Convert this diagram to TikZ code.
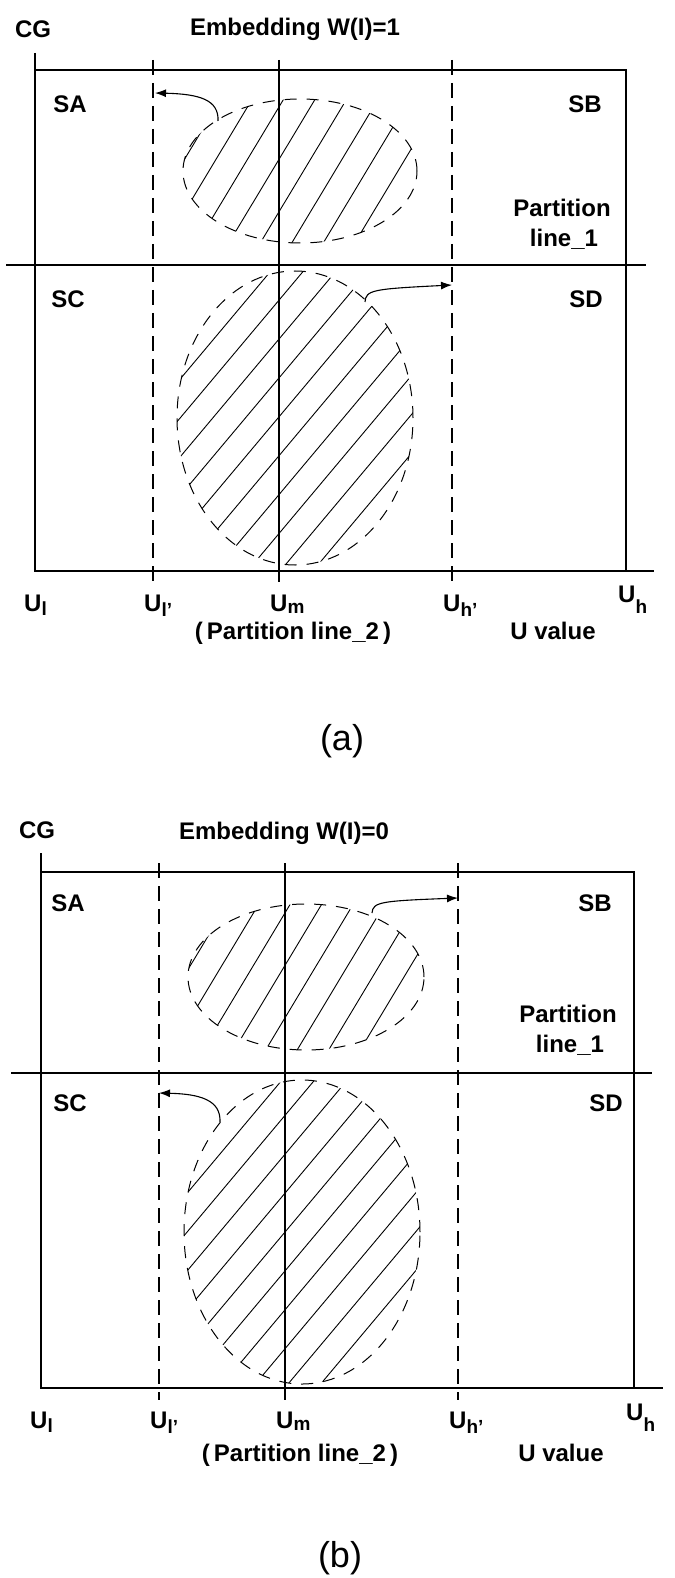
\documentclass[tikz,border=0pt]{standalone}
\usepackage{fontspec}
\setmainfont{Liberation Sans}
\usetikzlibrary{arrows.meta}
\newcommand{\lowsub}[2]{\raisebox{-#1pt}{\fontsize{19}{19}\selectfont #2}}
\begin{document}
\begin{tikzpicture}[x=1pt,y=-1pt,
  axis/.style={line width=1.3pt},
  guide/.style={line width=1.2pt, dash pattern=on 15pt off 8pt},
  region/.style={line width=1pt, dash pattern=on 12pt off 10pt},
  hatch/.style={line width=0.9pt},
  lbl/.style={font=\fontsize{24}{29}\selectfont\bfseries, inner sep=0pt, anchor=base},
  ulbl/.style={font=\fontsize{24}{29}\selectfont\bfseries, inner sep=0pt, anchor=base west},
  captxt/.style={font=\fontsize{36}{43}\selectfont, inner sep=0pt, anchor=base},
  mv/.style={line width=1.1pt, -{Latex[length=11pt,width=8pt]}},
]
\useasboundingbox (0,0) rectangle (674,1578);

%%%%%%%%%%%%%%%% Panel (a) %%%%%%%%%%%%%%%%
\begin{scope}
  \clip (300,171) ellipse [x radius=117pt, y radius=72pt];
  \begin{scope}[shift={(300,171)}, rotate=59]
    \foreach \k in {-6,...,6} \draw[hatch] (-200,\k*27+3) -- (200,\k*27+3);
  \end{scope}
\end{scope}
\begin{scope}
  \clip (295,418) ellipse [x radius=118pt, y radius=147pt];
  \begin{scope}[shift={(295,418)}, rotate=50]
    \foreach \k in {-9,...,9} \draw[hatch] (-250,\k*25-13) -- (250,\k*25-13);
  \end{scope}
\end{scope}
\draw[region] (300,171) ellipse [x radius=117pt, y radius=72pt];
\draw[region] (295,418) ellipse [x radius=118pt, y radius=147pt];

\coordinate (aAx) at (35,53);
\coordinate (aTL) at (35,70);
\coordinate (aTR) at (626,70);
\coordinate (aBL) at (35,571);
\coordinate (aBR) at (626,571);
\coordinate (aBE) at (654,571);
\coordinate (aP1) at (6,265);
\coordinate (aP2) at (646,265);
\draw[axis] (aAx) -- (aBL) -- (aBE);
\draw[axis] (aTL) -- (aTR) -- (aBR);
\draw[axis] (aP1) -- (aP2);
\coordinate (aUlT) at (153,60);  \coordinate (aUlB) at (153,582);
\coordinate (aUmT) at (279,60);  \coordinate (aUmB) at (279,582);
\coordinate (aUhT) at (452,60);  \coordinate (aUhB) at (452,582);
\draw[guide] (aUlT) -- (aUlB);
\draw[axis] (aUmT) -- (aUmB);
\draw[guide] (aUhT) -- (aUhB);

\coordinate (aA1s) at (218,121); \coordinate (aA1e) at (155,93);
\draw[mv] (aA1s) .. controls (219,100) and (200,94) .. (aA1e);
\coordinate (aA2s) at (365,302); \coordinate (aA2e) at (452,285);
\draw[mv] (aA2s) .. controls (366,290) and (372,289) .. (aA2e);

\node[lbl] (aCG) at (33,38) {CG};
\node[lbl] (aTitle) at (295,36) {Embedding W(I)=1};
\node[lbl] (aSA) at (70,113) {SA};
\node[lbl] (aSB) at (585,113) {SB};
\node[lbl] (aSC) at (68,308) {SC};
\node[lbl] (aSD) at (586,308) {SD};
\node[lbl] (aPart) at (562,217) {Partition};
\node[lbl] (aLine) at (564,247) {line\_1};
\node[ulbl] (aUl) at (24,611) {U\lowsub{4}{l}};
\node[ulbl] (aUlp) at (144,611) {U\lowsub{5}{l'}};
\node[ulbl] (aUm) at (270,611) {U\lowsub{2}{m}};
\node[ulbl] (aUhp) at (443,611) {U\lowsub{5}{h'}};
\node[ulbl] (aUh) at (618,602) {U\lowsub{11}{h}};
\node[lbl] (aPL2) at (293,639) {(\hspace{4pt}Partition line\_2\hspace{4pt})};
\node[lbl] (aUv) at (553,639) {U value};
\node[captxt] (aCap) at (342,750) {(a)};

%%%%%%%%%%%%%%%% Panel (b) %%%%%%%%%%%%%%%%
\begin{scope}
  \clip (306,977) ellipse [x radius=118pt, y radius=73pt];
  \begin{scope}[shift={(306,977)}, rotate=59]
    \foreach \k in {-6,...,6} \draw[hatch] (-200,\k*27+3) -- (200,\k*27+3);
  \end{scope}
\end{scope}
\begin{scope}
  \clip (302,1232) ellipse [x radius=118pt, y radius=152pt];
  \begin{scope}[shift={(302,1232)}, rotate=50]
    \foreach \k in {-9,...,9} \draw[hatch] (-250,\k*25-13) -- (250,\k*25-13);
  \end{scope}
\end{scope}
\draw[region] (306,977) ellipse [x radius=118pt, y radius=73pt];
\draw[region] (302,1232) ellipse [x radius=118pt, y radius=152pt];

\coordinate (bAx) at (41,853);
\coordinate (bTL) at (41,872);
\coordinate (bTR) at (634,872);
\coordinate (bBL) at (41,1388);
\coordinate (bBR) at (634,1388);
\coordinate (bBE) at (663,1388);
\coordinate (bP1) at (11,1073);
\coordinate (bP2) at (652,1073);
\draw[axis] (bAx) -- (bBL) -- (bBE);
\draw[axis] (bTL) -- (bTR) -- (bBR);
\draw[axis] (bP1) -- (bP2);
\coordinate (bUlT) at (159,863);  \coordinate (bUlB) at (159,1400);
\coordinate (bUmT) at (285,863);  \coordinate (bUmB) at (285,1400);
\coordinate (bUhT) at (458,863);  \coordinate (bUhB) at (458,1400);
\draw[guide] (bUlT) -- (bUlB);
\draw[axis] (bUmT) -- (bUmB);
\draw[guide] (bUhT) -- (bUhB);

\coordinate (bA1s) at (372,913); \coordinate (bA1e) at (458,898);
\draw[mv] (bA1s) .. controls (373,902) and (380,901) .. (bA1e);
\coordinate (bA2s) at (220,1122); \coordinate (bA2e) at (159,1093);
\draw[mv] (bA2s) .. controls (221,1100) and (200,1094) .. (bA2e);

\node[lbl] (bCG) at (37,838) {CG};
\node[lbl] (bTitle) at (284,839) {Embedding W(I)=0};
\node[lbl] (bSA) at (68,911) {SA};
\node[lbl] (bSB) at (595,911) {SB};
\node[lbl] (bSC) at (70,1111) {SC};
\node[lbl] (bSD) at (606,1111) {SD};
\node[lbl] (bPart) at (568,1022) {Partition};
\node[lbl] (bLine) at (570,1052) {line\_1};
\node[ulbl] (bUl) at (30,1428) {U\lowsub{4}{l}};
\node[ulbl] (bUlp) at (150,1428) {U\lowsub{5}{l'}};
\node[ulbl] (bUm) at (276,1428) {U\lowsub{2}{m}};
\node[ulbl] (bUhp) at (449,1428) {U\lowsub{5}{h'}};
\node[ulbl] (bUh) at (626,1420) {U\lowsub{11}{h}};
\node[lbl] (bPL2) at (300,1461) {(\hspace{4pt}Partition line\_2\hspace{4pt})};
\node[lbl] (bUv) at (561,1461) {U value};
\node[captxt] (bCap) at (340,1567) {(b)};
\end{tikzpicture}
\end{document}
